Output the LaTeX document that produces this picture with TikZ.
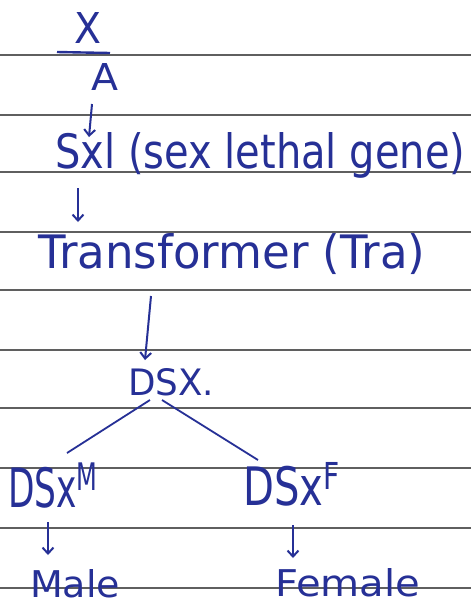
\documentclass[tikz,border=0pt]{standalone}
\usepackage{fontspec}
\setmainfont{DejaVu Sans}
\usepackage{graphicx}
\usetikzlibrary{arrows.meta}
\definecolor{ink}{RGB}{38,48,150}
\definecolor{rule}{RGB}{95,95,95}
\begin{document}
\begin{tikzpicture}[x=1pt,y=-1pt,
  lbl/.style={text=ink,inner sep=0pt,anchor=base west,font=\fontsize{30}{32}\selectfont},
  arr/.style={draw=ink,line width=2pt,-{Straight Barb[length=6pt,width=11pt]}},
  conn/.style={draw=ink,line width=1.8pt},
  ruled/.style={draw=rule,line width=1.1pt}]
\useasboundingbox (0,0) rectangle (471,606);
\fill[white] (0,0) rectangle (471,606);
\foreach \yy in {55,115,172,232,290,350,408,468,528,588}
  \draw[ruled] (0,\yy) -- (471,\yy);
% fraction X/A
\node[lbl] (x) at (74,43) {\resizebox{27pt}{31pt}{X}};
\coordinate (barl) at (57,52);
\coordinate (barr) at (110,53);
\draw[conn,line width=2.4pt] (barl) -- (barr);
\node[lbl] (a) at (91,90) {\resizebox{27pt}{27pt}{A}};
\node[lbl] (sxl) at (55,168) {\resizebox{410pt}{36pt}{Sxl (sex lethal gene)}};
\coordinate (s1) at (92,104);
\coordinate (e1) at (89,137);
\draw[arr] (s1) -- (e1);
\node[lbl] (tra) at (38,268) {\resizebox{387pt}{35pt}{Transformer (Tra)}};
\coordinate (s2) at (78,188);
\coordinate (e2) at (78,222);
\draw[arr] (s2) -- (e2);
\node[lbl] (dsx) at (128,395) {\resizebox{86pt}{27pt}{DSX.}};
\coordinate (s3) at (151,296);
\coordinate (e3) at (145,360);
\draw[arr] (s3) -- (e3);
\node[lbl] (dsxm) at (8,507) {\resizebox{90pt}{44pt}{DSx\textsuperscript{M}}};
\node[lbl] (dsxf) at (243,505) {\resizebox{97pt}{43pt}{DSx\textsuperscript{F}}};
\coordinate (dl) at (150,400);
\coordinate (dr) at (162,400);
\coordinate (ml) at (67,453);
\coordinate (fr) at (258,460);
\draw[conn] (dl) -- (ml);
\draw[conn] (dr) -- (fr);
\coordinate (s4) at (48,522);
\coordinate (e4) at (48,555);
\coordinate (s5) at (293,525);
\coordinate (e5) at (293,558);
\draw[arr] (s4) -- (e4);
\draw[arr] (s5) -- (e5);
\node[lbl] (male) at (30,597) {\resizebox{90pt}{28pt}{Male}};
\node[lbl] (female) at (275,596) {\resizebox{145pt}{28pt}{Female}};
\end{tikzpicture}
\end{document}
